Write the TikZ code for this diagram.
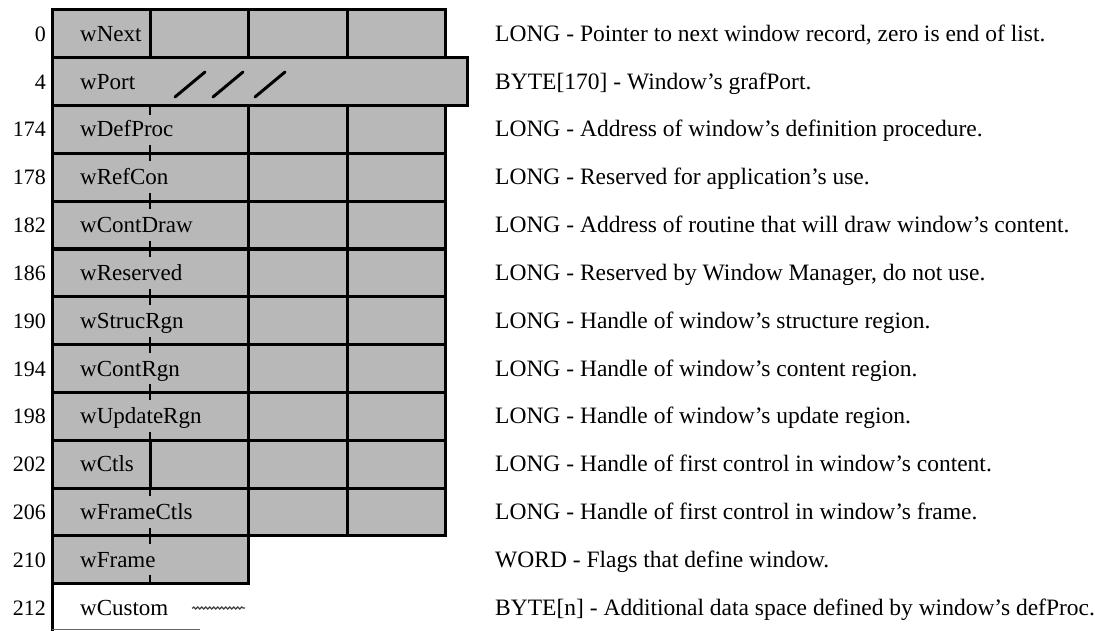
\documentclass[tikz,border=0pt]{standalone}
\usepackage{fontspec}
\setmainfont{Liberation Serif}
\usetikzlibrary{decorations.pathmorphing}
\definecolor{memgray}{RGB}{184,184,184}

\begin{document}
\begin{tikzpicture}[x=1pt,y=-1pt,line cap=rect,line join=miter,
  every node/.style={inner sep=0pt},
  rule/.style={line width=3pt},
  tick/.style={line width=2pt,line cap=butt},
  offs/.style={anchor=base east,font=\fontsize{22}{24}\selectfont},
  fld/.style={anchor=base west,font=\fontsize{23}{25}\selectfont},
  desc/.style={anchor=base west,font=\fontsize{23.5}{25}\selectfont}]
  \def\L{52}
  \def\T{10}
  \def\P{47.8}
  \useasboundingbox (0,0) rectangle (1095,631);
  % shaded bytes
  \fill[memgray] (\L,\T) rectangle (445,{\T+11*\P});
  \fill[memgray] (445,{\T+\P}) rectangle (467,{\T+2*\P});
  \fill[memgray] (\L,{\T+11*\P}) rectangle (248,{\T+12*\P});
  % horizontal rules
  \foreach \k in {0,3,4,...,11}
    \draw[rule] (\L,{\T+\k*\P}) -- (445,{\T+\k*\P});
  \foreach \k in {1,2}
    \draw[rule] (\L,{\T+\k*\P}) -- (467,{\T+\k*\P});
  \draw[rule] (\L,{\T+12*\P}) -- (248,{\T+12*\P});
  % vertical rules
  \draw[rule] (\L,\T) -- (\L,640);
  \draw[rule] (445,\T) -- (445,{\T+\P}) (467,{\T+\P}) -- (467,{\T+2*\P})
    (445,{\T+2*\P}) -- (445,{\T+11*\P});
  \draw[rule] (248,\T) -- (248,{\T+\P}) (248,{\T+2*\P}) -- (248,{\T+12*\P});
  \draw[rule] (347,\T) -- (347,{\T+\P}) (347,{\T+2*\P}) -- (347,{\T+11*\P});
  \draw[rule] (150,\T) -- (150,{\T+\P}) (150,{\T+9*\P}) -- (150,{\T+10*\P});
  \foreach \k in {3,...,11}
    \draw[tick] (150,{\T+\k*\P-8}) -- (150,{\T+\k*\P+8});
  \draw[tick] (150,{\T+2*\P}) -- (150,{\T+2*\P+9});
  \draw[tick] (150,{\T+12*\P-9}) -- (150,{\T+12*\P});
  % grafPort is cut short
  \foreach \sx in {175,213,255}
    \draw[line width=3pt,line cap=round] (\sx,97) -- ({\sx+30},72);
  % open end of the record
  \draw[line width=1pt,black!60,line cap=butt] (\L,629) -- (200,629);
  \foreach \i/\off/\name/\txt in {
      0/0/wNext/{LONG - Pointer to next window record, zero is end of list.},
      1/4/wPort/{BYTE[170] - Window's grafPort.},
      2/174/wDefProc/{LONG - Address of window's definition procedure.},
      3/178/wRefCon/{LONG - Reserved for application's use.},
      4/182/wContDraw/{LONG - Address of routine that will draw window's content.},
      5/186/wReserved/{LONG - Reserved by Window Manager, do not use.},
      6/190/wStrucRgn/{LONG - Handle of window's structure region.},
      7/194/wContRgn/{LONG - Handle of window's content region.},
      8/198/wUpdateRgn/{LONG - Handle of window's update region.},
      9/202/wCtls/{LONG - Handle of first control in window's content.},
      10/206/wFrameCtls/{LONG - Handle of first control in window's frame.},
      11/210/wFrame/{WORD - Flags that define window.},
      12/212/wCustom/{BYTE[n] - Additional data space defined by window's defProc.}}{
    \node[offs] (off\i) at (46,{\T+(\i+0.5)*\P+7.5}) {\off};
    \node[fld] (fld\i) at (80,{\T+(\i+0.5)*\P+7.5}) {\name};
    \node[desc] (dsc\i) at (495,{\T+(\i+0.5)*\P+7.5}) {\txt};
  }
  \draw[line width=1.2pt,black!75,decorate,
    decoration={snake,amplitude=1pt,segment length=4pt}]
    ([xshift=24pt]fld12.east |- 0,608) -- ++(52,0);
\end{tikzpicture}
\end{document}
